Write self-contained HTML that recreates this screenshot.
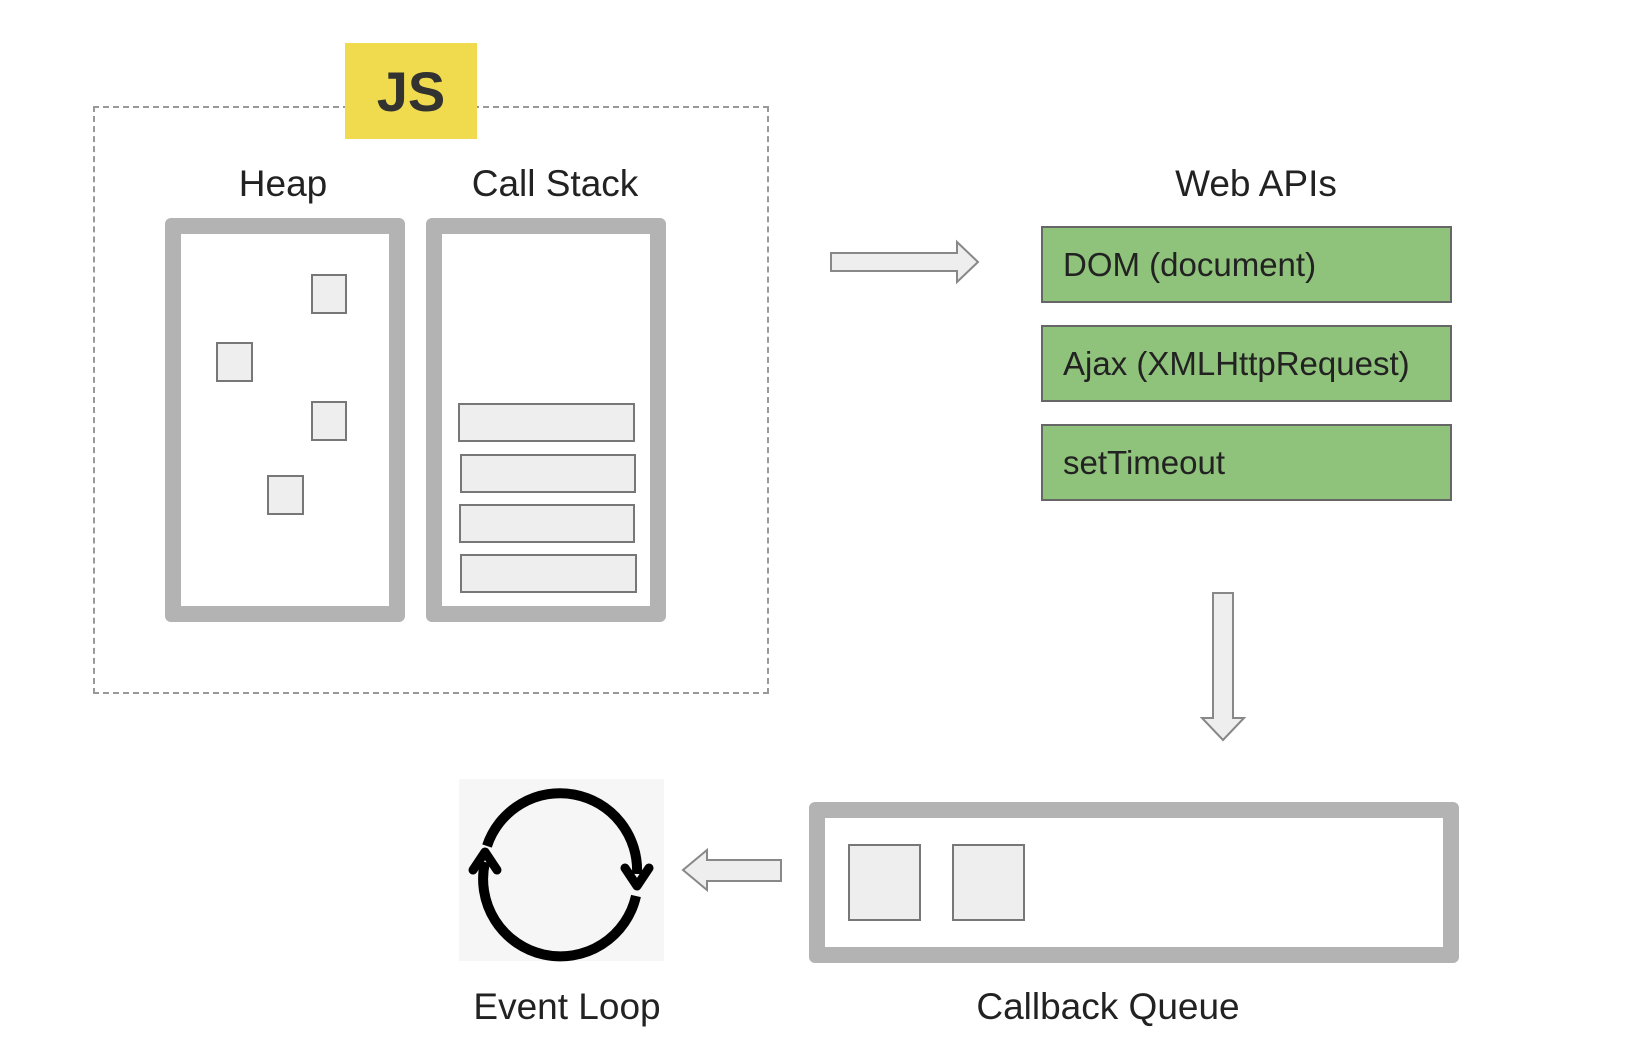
<!DOCTYPE html>
<html><head><style>
body{margin:0;width:1642px;height:1064px;background:#fff;position:relative;overflow:hidden;font-family:"Liberation Sans",sans-serif;}
.a{position:absolute;box-sizing:border-box;}
.lbl{position:absolute;font-size:37px;color:#222;transform:translate(-50%,-50%);white-space:nowrap;}
.g{position:absolute;box-sizing:border-box;background:#8fc27a;border:2px solid #666;font-size:33px;color:#222;padding-left:20px;display:flex;align-items:center;}
.sq{position:absolute;box-sizing:border-box;background:#eee;border:2px solid #777;}
</style></head><body>
<div class="a" style="left:93px;top:106px;width:676px;height:588px;border:2px dashed #999;"></div>
<div class="a" style="left:345px;top:43px;width:132px;height:96px;background:#f0db4f;font-weight:bold;font-size:56px;color:#323330;display:flex;align-items:center;justify-content:center;">JS</div>
<div class="lbl" style="left:283px;top:184px;">Heap</div>
<div class="lbl" style="left:555px;top:184px;">Call Stack</div>
<div class="a" style="left:165px;top:218px;width:240px;height:404px;border:16px solid #b3b3b3;border-radius:6px;"></div>
<div class="a" style="left:426px;top:218px;width:240px;height:404px;border:16px solid #b3b3b3;border-radius:6px;"></div>
<div class="sq" style="left:311px;top:274px;width:36px;height:40px;"></div>
<div class="sq" style="left:216px;top:342px;width:37px;height:40px;"></div>
<div class="sq" style="left:311px;top:401px;width:36px;height:40px;"></div>
<div class="sq" style="left:267px;top:475px;width:37px;height:40px;"></div>
<div class="sq" style="left:458px;top:403px;width:177px;height:39px;"></div>
<div class="sq" style="left:460px;top:454px;width:176px;height:39px;"></div>
<div class="sq" style="left:459px;top:504px;width:176px;height:39px;"></div>
<div class="sq" style="left:460px;top:554px;width:177px;height:39px;"></div>
<div class="lbl" style="left:1256px;top:184px;">Web APIs</div>
<div class="g" style="left:1041px;top:226px;width:411px;height:77px;">DOM (document)</div>
<div class="g" style="left:1041px;top:325px;width:411px;height:77px;">Ajax (XMLHttpRequest)</div>
<div class="g" style="left:1041px;top:424px;width:411px;height:77px;">setTimeout</div>
<svg class="a" style="left:0;top:0" width="1642" height="1064">
<polygon points="831,253 957,253 957,242 978,262 957,282 957,271 831,271" fill="#eee" stroke="#888" stroke-width="2"/>
<polygon points="1213,593 1233,593 1233,718 1244,718 1223,740 1202,718 1213,718" fill="#eee" stroke="#888" stroke-width="2"/>
<polygon points="781,860 707,860 707,850 683,870 707,890 707,881 781,881" fill="#eee" stroke="#888" stroke-width="2"/>
<rect x="459" y="779" width="205" height="182" fill="#f6f6f6"/>
<path d="M487,846 A77,77 0 0 1 637,874" fill="none" stroke="#000" stroke-width="10"/>
<path d="M636,896 A77,77 0 0 1 485,862" fill="none" stroke="#000" stroke-width="10"/>
<path d="M473,870 L485,852 L497,870" fill="none" stroke="#000" stroke-width="9" stroke-linejoin="round" stroke-linecap="round"/>
<path d="M625,868 L637,886 L649,868" fill="none" stroke="#000" stroke-width="9" stroke-linejoin="round" stroke-linecap="round"/>
</svg>
<div class="a" style="left:809px;top:802px;width:650px;height:161px;border:16px solid #b3b3b3;border-radius:6px;"></div>
<div class="sq" style="left:848px;top:844px;width:73px;height:77px;"></div>
<div class="sq" style="left:952px;top:844px;width:73px;height:77px;"></div>
<div class="lbl" style="left:567px;top:1007px;">Event Loop</div>
<div class="lbl" style="left:1108px;top:1007px;">Callback Queue</div>
</body></html>
